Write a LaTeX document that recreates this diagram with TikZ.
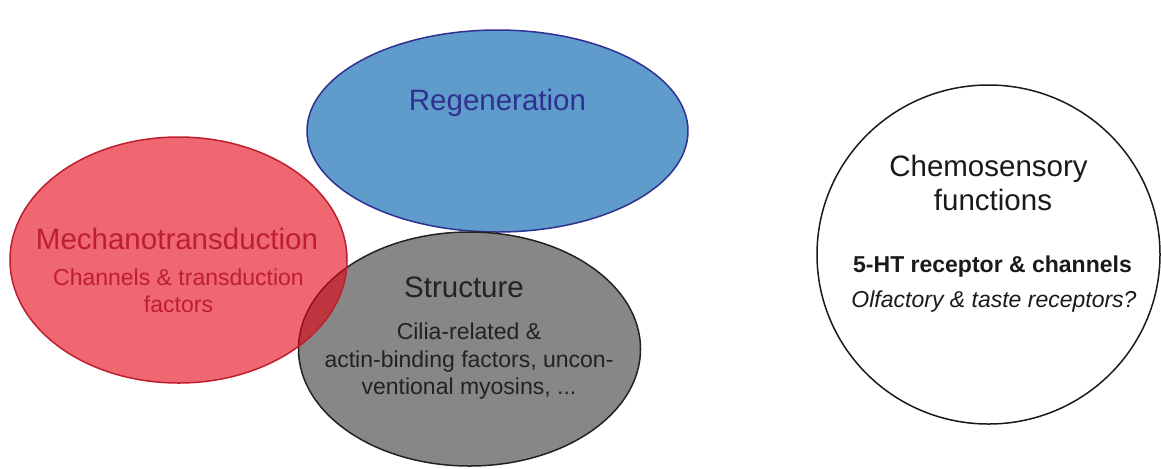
\documentclass[tikz,border=0pt]{standalone}
\usepackage{fontspec}
\setmainfont{Liberation Sans}
\usetikzlibrary{shapes.geometric,positioning}
\definecolor{RegFill}{HTML}{5F9BCB}
\definecolor{RegInk}{HTML}{2E3192}
\definecolor{MechFill}{HTML}{E40212}
\definecolor{MechInk}{HTML}{BE1E2D}
\definecolor{StructFill}{HTML}{878787}
\definecolor{StructInk}{HTML}{222222}
\definecolor{ChemInk}{HTML}{1A1A1A}
\tikzset{
 blob/.style={ellipse,inner sep=0pt,line width=.75pt},
 head/.style={anchor=base,inner sep=0pt,font=\fontsize{14.75}{17}\selectfont},
 detail/.style={anchor=base,inner sep=0pt,font=\fontsize{11.5}{13.5}\selectfont}
}
\begin{document}
\begin{tikzpicture}[x=.5pt,y=-.5pt]
\useasboundingbox (0,0) rectangle (1161,468);
\node[blob,draw=RegInk,fill=RegFill,minimum width=190.5pt,minimum height=101pt] (regen) at (497.5,131) {};
\node[blob,draw=StructInk,fill=StructFill,minimum width=171pt,minimum height=117pt] (struct) at (469.5,349) {};
\node[blob,draw=MechInk,fill=MechFill,fill opacity=.6,minimum width=168.5pt,minimum height=123pt] (mech) at (178.5,260) {};
\node[blob,draw=ChemInk,fill=white,minimum width=171.5pt,minimum height=169.5pt] (chem) at (988.5,254.5) {};
\node[head,text=RegInk] (regenT) at (497.5,110) {Regeneration};
\node[head,text=MechInk] (mechT) at (177,249) {Mechanotransduction};
\foreach \y/\txt [count=\i] in {285/Channels \& transduction,312/factors}
 \node[detail,text=MechInk] (mech\i) at (178.5,\y) {\txt};
\node[head,text=StructInk] (structT) at (464,297) {Structure};
\foreach \y/\txt [count=\i] in {339/Cilia-related \&,367/{actin-binding factors, uncon-},394/{ventional myosins, ...}}
 \node[detail,text=StructInk] (struct\i) at (469,\y) {\txt};
\node[head,text=ChemInk] (chemT1) at (988.5,176) {Chemosensory};
\node[head,text=ChemInk] (chemT2) at (993,210) {functions};
\node[detail,text=ChemInk,font=\fontsize{11.5}{13.5}\selectfont\bfseries] (chem1) at (992.5,272) {5-HT receptor \& channels};
\node[detail,text=ChemInk,font=\fontsize{11.5}{13.5}\selectfont\itshape] (chem2) at (994,307) {Olfactory \& taste receptors?};
\end{tikzpicture}
\end{document}
